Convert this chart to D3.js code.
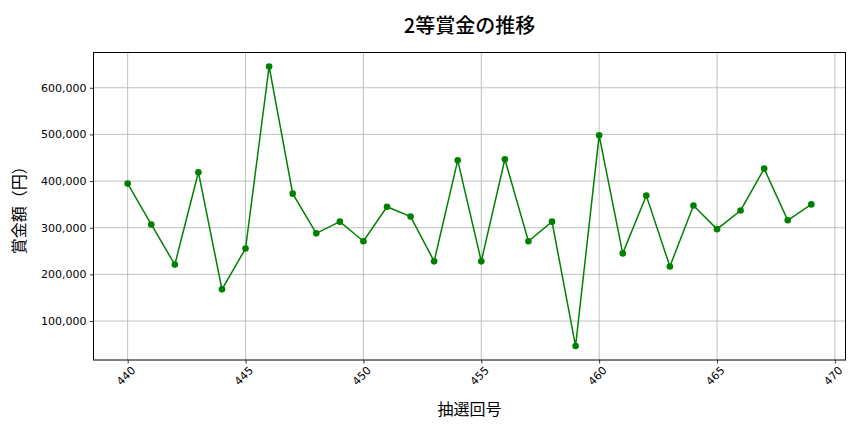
<!DOCTYPE html>
<html>
<head>
<meta charset="utf-8">
<script src="https://cdn.jsdelivr.net/npm/d3@7"></script>
<style>
html,body{margin:0;padding:0;background:#fff;}
svg{display:block;}
</style>
</head>
<body>
<svg id="chart" width="864" height="432"></svg>
<script>
const draws = [440,441,442,443,444,445,446,447,448,449,450,451,452,453,454,455,456,457,458,459,460,461,462,463,464,465,466,467,468,469];
const prizes = [394600,307000,221000,419000,168000,255500,645600,373000,288000,313000,271000,345000,324000,228000,444500,228000,446600,271000,313000,46500,498000,245000,369000,217000,347500,297000,337000,426700,316000,350000];
const xTicks = [440,445,450,455,460,465,470];
const yTicks = [100000,200000,300000,400000,500000,600000];
const titleText = "2等賞金の推移";
const xLabel = "抽選回号";
const yLabel = "賞金額（円）";

const W = 864, H = 432;
const m = {left: 93.5, right: 845.5, top: 52.5, bottom: 360};
const svg = d3.select("#chart");
const cjk = "'Noto Sans CJK JP','Noto Sans CJK SC',sans-serif";
const tickFont = "'DejaVu Sans',sans-serif";

const xMin = d3.min(draws), xMax = d3.max(draws);
const xPad = (xMax - xMin) * 0.05;
const yMin = d3.min(prizes), yMax = d3.max(prizes);
const yPad = (yMax - yMin) * 0.05;

const x = d3.scaleLinear().domain([xMin - xPad, xMax + xPad]).range([m.left, m.right]);
const y = d3.scaleLinear().domain([yMin - yPad, yMax + yPad]).range([m.bottom, m.top]);

// grid
const g = svg.append("g");
g.selectAll(".gx").data(xTicks).enter().append("line")
  .attr("x1", d => x(d)).attr("x2", d => x(d))
  .attr("y1", m.top).attr("y2", m.bottom)
  .attr("stroke", "#b0b0b0").attr("stroke-width", 0.8);
g.selectAll(".gy").data(yTicks).enter().append("line")
  .attr("x1", m.left).attr("x2", m.right)
  .attr("y1", d => y(d)).attr("y2", d => y(d))
  .attr("stroke", "#b0b0b0").attr("stroke-width", 0.8);

// axes
const fmt = d3.format(",");
const xAxis = svg.append("g").attr("transform", `translate(0,${m.bottom})`)
  .call(d3.axisBottom(x).tickValues(xTicks).tickSize(3.5).tickPadding(2).tickFormat(d3.format("d")));
xAxis.select(".domain").remove();
xAxis.selectAll("line").attr("stroke", "#000").attr("stroke-width", 0.8);
xAxis.selectAll("text")
  .attr("font-family", tickFont).attr("font-size", 11).attr("fill", "#000")
  .attr("text-anchor", "middle").attr("dy", null)
  .attr("transform", "translate(-2,16) rotate(-45)")
  .attr("y", 0).attr("x", 0).attr("dominant-baseline", "central");

const yAxis = svg.append("g").attr("transform", `translate(${m.left},0)`)
  .call(d3.axisLeft(y).tickValues(yTicks).tickSize(3.5).tickPadding(3.5).tickFormat(fmt));
yAxis.select(".domain").remove();
yAxis.selectAll("line").attr("stroke", "#000").attr("stroke-width", 0.8);
yAxis.selectAll("text").attr("font-family", tickFont).attr("font-size", 11).attr("fill", "#000");

// frame
svg.append("rect").attr("x", m.left).attr("y", m.top)
  .attr("width", m.right - m.left).attr("height", m.bottom - m.top)
  .attr("fill", "none").attr("stroke", "#000").attr("stroke-width", 1);

// line
const line = d3.line().x((d, i) => x(draws[i])).y(d => y(d));
svg.append("path").datum(prizes).attr("d", line)
  .attr("fill", "none").attr("stroke", "#008000").attr("stroke-width", 1.5);
svg.selectAll(".pt").data(prizes).enter().append("circle")
  .attr("cx", (d, i) => x(draws[i])).attr("cy", d => y(d)).attr("r", 3.3)
  .attr("fill", "#008000");

// labels
svg.append("text").attr("x", (m.left + m.right) / 2).attr("y", 32.5)
  .attr("text-anchor", "middle").attr("font-family", cjk).attr("font-size", 20)
  .attr("font-weight", 500).text(titleText);
svg.append("text").attr("x", (m.left + m.right) / 2).attr("y", 415)
  .attr("text-anchor", "middle").attr("font-family", cjk).attr("font-size", 16)
  .text(xLabel);
svg.append("text").attr("transform", `translate(25,${(m.top + m.bottom) / 2}) rotate(-90)`)
  .attr("text-anchor", "middle").attr("font-family", cjk).attr("font-size", 16)
  .text(yLabel);
</script>
</body>
</html>
